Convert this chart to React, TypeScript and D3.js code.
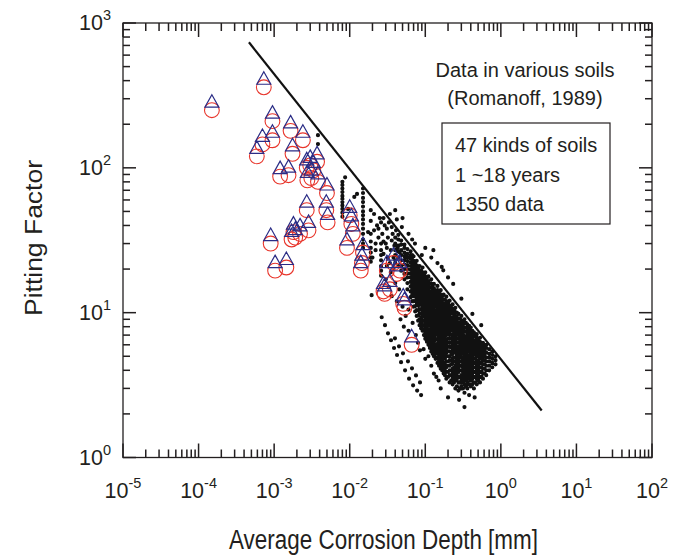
import * as d3 from "d3";

// Pitting factor vs average corrosion depth (log-log)

const xDecades = [-5, -4, -3, -2, -1, 0, 1, 2];
const yDecades = [0, 1, 2, 3];
const minorMantissa = [2, 3, 4, 5, 6, 7, 8, 9];

// upper bound line
const boundDepth = [4.64e-4, 3.47];
const boundFactor = [736, 2.11];

// per-soil markers (circle + triangle)
const soilDepth = [
  1.5e-4, 7.3e-4, 9.5e-4, 9.5e-4, 7.0e-4, 5.9e-4, 1.65e-3, 2.4e-3, 1.75e-3, 3.7e-3,
  2.7e-3, 3.3e-3, 3.1e-3, 1.2e-3, 1.55e-3, 2.75e-3, 3.8e-3, 5.0e-3, 4.9e-3, 2.7e-3,
  5.1e-3, 1.8e-3, 2.2e-3, 1.9e-3, 2.85e-3, 1.7e-3, 9.0e-4, 1.03e-3, 1.45e-3, 1.0e-2,
  1.05e-2, 1.1e-2, 9.2e-3, 1.5e-2, 1.45e-2, 1.4e-2, 3.1e-2, 3.8e-2, 4.2e-2, 2.8e-2,
  3.4e-2, 2.9e-2, 5.1e-2, 5.3e-2, 6.6e-2, 3.0e-3, 4.6e-2,
];
const soilFactor = [
  250, 360, 210, 155, 145, 120, 180, 155, 125, 110,
  100, 96, 85, 87, 89, 82, 80, 67, 51, 51,
  42, 36, 35, 33, 37, 32, 30, 19.5, 20.5, 47,
  41, 35, 28, 26, 22, 19.5, 19.5, 22, 18.5, 14,
  14.5, 13.5, 11.5, 10.8, 6, 104, 19.5,
];

// sparse measurements (depth mm, pitting factor)
const sparseDots: [number, number][] = [
  [0.0038, 168], [0.0038, 146], [0.0087, 86],
  [0.008, 80], [0.008, 76], [0.008, 72], [0.008, 68], [0.008, 64], [0.008, 61],
  [0.008, 58], [0.008, 55], [0.008, 52], [0.008, 49], [0.008, 46],
  [0.0115, 63], [0.0095, 52], [0.0125, 66],
  [0.015, 72], [0.015, 67], [0.015, 62], [0.015, 58], [0.015, 54], [0.015, 50], [0.015, 47],
  [0.015, 44], [0.015, 41], [0.015, 38], [0.015, 35], [0.015, 32], [0.015, 30], [0.015, 28],
  [0.019, 51], [0.019, 43], [0.0175, 36], [0.021, 48], [0.024, 38], [0.024, 33], [0.022, 30],
  [0.022, 27], [0.02, 24], [0.026, 42], [0.028, 45], [0.031, 38], [0.036, 39], [0.04, 51],
  [0.042, 44], [0.049, 39], [0.05, 45], [0.06, 35], [0.073, 30], [0.1, 28], [0.034, 48],
  [0.067, 32], [0.128, 27], [0.165, 20.7], [0.173, 19.6], [0.234, 15.8], [0.12, 24],
  [0.145, 22], [0.2, 17.5], [0.09, 25], [0.3, 12.5], [0.42, 9.8], [0.55, 8.2],
  [0.019, 35], [0.019, 31], [0.019, 28], [0.019, 26], [0.019, 24], [0.019, 22.5],
  [0.026, 30], [0.026, 27], [0.026, 25], [0.026, 23], [0.026, 21], [0.026, 19.5], [0.026, 18],
  [0.028, 25.5], [0.031, 28], [0.036, 31.5], [0.046, 26], [0.054, 24],
  [0.027, 35], [0.029, 40], [0.032, 33], [0.033, 42], [0.037, 35], [0.039, 29], [0.041, 37],
  [0.044, 34.5], [0.043, 28], [0.03, 30], [0.035, 27], [0.038, 24], [0.023, 40], [0.025, 45],
  [0.021, 37], [0.028, 31], [0.032, 24], [0.034, 22], [0.04, 23],
  [0.03, 17], [0.033, 15], [0.036, 13], [0.04, 16], [0.035, 19], [0.042, 12], [0.045, 14.5],
  [0.05, 11], [0.055, 9.5], [0.06, 10.5], [0.047, 9], [0.052, 8], [0.06, 7.5], [0.068, 8.5],
  [0.075, 7], [0.08, 6.2], [0.085, 5.5], [0.095, 5.6], [0.1, 4.8], [0.11, 5], [0.12, 4.3],
  [0.13, 3.8], [0.14, 3.6], [0.15, 3.4], [0.038, 20], [0.031, 21], [0.0195, 13.2],
  // lower trails
  [0.0265, 9.3], [0.0293, 8.2], [0.0321, 7.2], [0.0352, 6.45], [0.0386, 5.7], [0.0423, 5.1],
  [0.0478, 4.55], [0.054, 4.0], [0.061, 3.5], [0.069, 3.15], [0.078, 2.9], [0.088, 2.7],
  [0.0397, 6.65], [0.0449, 5.86], [0.0507, 5.24], [0.059, 4.61], [0.0667, 4.13],
  [0.0753, 3.69], [0.0851, 3.3],
  [0.33, 2.23], [0.2, 2.6], [0.45, 2.6], [0.28, 2.5], [0.16, 3.0], [0.38, 2.7],
];

// dense cloud: depth -> pitting factors
const cloudColumns: [number, number[]][] = [
  [0.040, [22, 25, 27, 30, 33]],
  [0.044, [21, 24, 26.5, 29, 32]],
  [0.048, [19.5, 21, 23, 25, 27, 29.5, 31.5]],
  [0.053, [17, 18.5, 20, 21.5, 23, 24.5, 26, 28, 29.5]],
  [0.058, [14.5, 16, 17.5, 18.7, 20, 21.3, 22.7, 24, 25.5, 27.5]],
  [0.064, [12.8, 14, 15.2, 16.3, 17.5, 18.6, 19.8, 21, 22.3, 23.7, 25, 26.5]],
  [0.067, [12, 13.2, 14.5, 15.7, 16.9, 18, 19.2, 20.5, 21.8, 23.2, 25]],
  [0.070, [11, 12, 13, 14, 15, 16, 17, 18, 19.2, 20.3, 21.5, 22.8, 24.5]],
  [0.0735, [10.2, 11.1, 12, 12.9, 13.8, 14.7, 15.6, 16.5, 17.5, 18.5, 19.6, 20.8, 22.2]],
  [0.077, [9.5, 10.4, 11.3, 12.2, 13, 13.9, 14.8, 15.7, 16.7, 17.7, 18.8, 20, 21.2, 22.8]],
  [0.0805, [8.8, 9.6, 10.4, 11.2, 12, 12.8, 13.6, 14.4, 15.2, 16.1, 17, 18, 19.1, 20.3]],
  [0.084, [8.2, 9, 9.8, 10.6, 11.4, 12.2, 13, 13.8, 14.6, 15.5, 16.4, 17.4, 18.5, 19.6, 21]],
  [0.088, [7.8, 8.5, 9.2, 9.9, 10.6, 11.3, 12, 12.8, 13.6, 14.4, 15.3, 16.3, 17.3, 18.4, 19.6]],
  [0.092, [7.5, 8.1, 8.8, 9.5, 10.2, 10.9, 11.6, 12.4, 13.2, 14, 14.9, 15.8, 16.8, 17.9, 19, 20.5]],
  [0.096, [7, 7.6, 8.2, 8.8, 9.4, 10, 10.7, 11.4, 12.1, 12.8, 13.6, 14.4, 15.3, 16.2, 17.2, 18.4]],
  [0.10, [6.6, 7.2, 7.8, 8.4, 9, 9.6, 10.3, 11, 11.7, 12.4, 13.1, 13.9, 14.8, 15.7, 16.7, 17.8, 19]],
  [0.105, [6.3, 6.8, 7.4, 8, 8.6, 9.2, 9.8, 10.4, 11, 11.7, 12.5, 13.3, 14.2, 15.1, 16.1, 17.2]],
  [0.11, [6, 6.5, 7, 7.6, 8.2, 8.8, 9.4, 10, 10.7, 11.4, 12.1, 12.9, 13.7, 14.6, 15.5, 16.5, 17.8]],
  [0.115, [5.7, 6.2, 6.7, 7.2, 7.7, 8.3, 8.9, 9.5, 10.1, 10.8, 11.5, 12.3, 13.1, 14, 14.9, 15.9]],
  [0.12, [5.4, 5.9, 6.4, 6.9, 7.4, 7.9, 8.5, 9.1, 9.7, 10.3, 11, 11.7, 12.4, 13.2, 14, 14.9, 15.9, 17]],
  [0.125, [5.2, 5.6, 6.1, 6.6, 7.1, 7.6, 8.1, 8.7, 9.3, 9.9, 10.5, 11.2, 11.9, 12.7, 13.5, 14.4, 15.4]],
  [0.13, [5, 5.4, 5.9, 6.3, 6.8, 7.3, 7.8, 8.3, 8.9, 9.5, 10.1, 10.8, 11.5, 12.2, 13, 13.8, 14.7, 15.8]],
  [0.137, [4.8, 5.2, 5.6, 6, 6.5, 7, 7.5, 8, 8.5, 9.1, 9.7, 10.3, 11, 11.7, 12.4, 13.2, 14.1]],
  [0.145, [4.5, 4.9, 5.3, 5.7, 6.1, 6.6, 7.1, 7.6, 8.1, 8.6, 9.2, 9.8, 10.4, 11.1, 11.8, 12.6, 13.4, 14.3, 15.3]],
  [0.152, [4.3, 4.7, 5.1, 5.5, 5.9, 6.3, 6.8, 7.3, 7.8, 8.3, 8.9, 9.5, 10.1, 10.7, 11.4, 12.1, 12.9, 13.8]],
  [0.16, [4.1, 4.5, 4.9, 5.3, 5.7, 6.1, 6.5, 7, 7.5, 8, 8.5, 9.1, 9.7, 10.3, 11, 11.7, 12.5, 13.4, 14.3]],
  [0.167, [4, 4.3, 4.7, 5.1, 5.5, 5.9, 6.3, 6.7, 7.2, 7.7, 8.2, 8.8, 9.4, 10, 10.6, 11.3, 12.1, 13]],
  [0.175, [3.8, 4.2, 4.5, 4.9, 5.2, 5.6, 6, 6.4, 6.9, 7.3, 7.8, 8.3, 8.9, 9.5, 10.1, 10.8, 11.5, 12.3, 13.3]],
  [0.182, [3.7, 4, 4.4, 4.8, 5.1, 5.5, 5.9, 6.3, 6.7, 7.2, 7.7, 8.2, 8.7, 9.3, 9.9, 10.6, 11.4, 12.3]],
  [0.19, [3.5, 3.9, 4.2, 4.6, 5, 5.3, 5.7, 6.1, 6.5, 7, 7.5, 8, 8.5, 9.1, 9.7, 10.4, 11.1, 12, 12.9]],
  [0.20, [3.6, 3.9, 4.3, 4.6, 5, 5.4, 5.8, 6.2, 6.6, 7.1, 7.6, 8.1, 8.7, 9.3, 10, 10.7, 11.6]],
  [0.21, [3.3, 3.7, 4, 4.3, 4.7, 5, 5.4, 5.8, 6.2, 6.6, 7, 7.5, 8, 8.5, 9.1, 9.7, 10.4, 11.2, 12.1]],
  [0.22, [3.4, 3.7, 4, 4.4, 4.7, 5.1, 5.4, 5.8, 6.2, 6.6, 7.1, 7.6, 8.1, 8.7, 9.3, 10, 10.8]],
  [0.23, [3.2, 3.5, 3.8, 4.1, 4.5, 4.8, 5.2, 5.5, 5.9, 6.3, 6.7, 7.1, 7.6, 8.1, 8.6, 9.2, 9.9, 10.6, 11.4]],
  [0.24, [3.3, 3.6, 3.9, 4.2, 4.6, 4.9, 5.3, 5.7, 6.1, 6.5, 6.9, 7.4, 7.9, 8.4, 9, 9.7, 10.4]],
  [0.25, [3, 3.4, 3.7, 4, 4.3, 4.6, 4.9, 5.3, 5.6, 6, 6.4, 6.8, 7.2, 7.7, 8.2, 8.8, 9.4, 10.1, 10.8]],
  [0.262, [3.1, 3.5, 3.8, 4.1, 4.4, 4.7, 5.1, 5.5, 5.8, 6.2, 6.6, 7.1, 7.6, 8.1, 8.7, 9.3, 10]],
  [0.275, [2.9, 3.3, 3.6, 3.9, 4.2, 4.5, 4.8, 5.1, 5.4, 5.8, 6.2, 6.6, 7, 7.5, 8, 8.5, 9.1, 9.8]],
  [0.288, [3, 3.3, 3.6, 4, 4.3, 4.6, 5, 5.3, 5.7, 6.1, 6.5, 7, 7.4, 7.9, 8.5, 9.1]],
  [0.30, [3.1, 3.4, 3.7, 4, 4.3, 4.6, 4.9, 5.2, 5.6, 6, 6.4, 6.8, 7.2, 7.7, 8.2, 8.8, 9.5]],
  [0.315, [3, 3.3, 3.6, 3.9, 4.2, 4.5, 4.8, 5.2, 5.5, 5.9, 6.3, 6.7, 7.1, 7.6, 8.1, 8.7]],
  [0.33, [2.8, 3.2, 3.5, 3.8, 4.1, 4.4, 4.7, 5, 5.3, 5.7, 6.1, 6.5, 6.9, 7.4, 7.9, 8.5, 9]],
  [0.345, [3.1, 3.4, 3.7, 4, 4.3, 4.6, 4.9, 5.3, 5.6, 6, 6.4, 6.9, 7.4, 7.9, 8.5]],
  [0.36, [3, 3.3, 3.6, 3.9, 4.2, 4.5, 4.8, 5.1, 5.5, 5.9, 6.3, 6.7, 7.2, 7.7, 8.3]],
  [0.38, [3.2, 3.5, 3.8, 4.1, 4.4, 4.7, 5, 5.4, 5.8, 6.2, 6.6, 7, 7.5, 8.1]],
  [0.40, [3.1, 3.4, 3.7, 4, 4.3, 4.6, 4.9, 5.2, 5.6, 6, 6.4, 6.8, 7.3, 7.9]],
  [0.42, [3.2, 3.5, 3.8, 4.1, 4.4, 4.7, 5, 5.3, 5.7, 6.1, 6.5, 7, 7.5]],
  [0.44, [3, 3.3, 3.6, 3.9, 4.2, 4.5, 4.8, 5.1, 5.5, 5.9, 6.3, 6.8, 7.3]],
  [0.46, [3.3, 3.6, 3.9, 4.2, 4.5, 4.8, 5.2, 5.6, 6, 6.4, 6.9]],
  [0.48, [3.2, 3.5, 3.8, 4.1, 4.4, 4.7, 5, 5.4, 5.8, 6.2, 6.7, 7.1]],
  [0.505, [3.4, 3.7, 4, 4.3, 4.6, 5, 5.3, 5.7, 6.1, 6.5]],
  [0.53, [3.3, 3.6, 3.9, 4.2, 4.5, 4.8, 5.1, 5.5, 5.9, 6.3, 6.7]],
  [0.555, [3.6, 3.9, 4.2, 4.5, 4.9, 5.2, 5.6, 6]],
  [0.58, [3.5, 3.8, 4.1, 4.4, 4.7, 5, 5.4, 5.8, 6.2]],
  [0.61, [3.8, 4.1, 4.4, 4.7, 5.1, 5.5, 5.9]],
  [0.64, [3.7, 4, 4.3, 4.6, 4.9, 5.3, 5.7, 6]],
  [0.70, [4, 4.3, 4.6, 4.9, 5.2, 5.6]],
  [0.77, [4.2, 4.5, 4.8, 5.1, 5.4]],
  [0.85, [4.4, 4.7, 5]],
];

const titleLines = ["Data in various soils", "(Romanoff, 1989)"];
const boxLines = ["47 kinds of soils", "1 ~18 years", "1350 data"];

const FONT = "'Liberation Sans', Arial, Helvetica, sans-serif";
const INK = "#231f20";
const RED = "#e8352b";
const NAVY = "#2b2d86";

const W = 677;
const H = 557;
const margin = { top: 23, right: 25, bottom: 99.5, left: 123 };

export default function App() {
  const x = d3.scaleLog().domain([1e-5, 1e2]).range([margin.left, W - margin.right]);
  const y = d3.scaleLog().domain([1, 1e3]).range([H - margin.bottom, margin.top]);
  const [x0, x1] = x.range();
  const [y0, y1] = y.range();

  // tick positions (major + minor) for both axes
  const xTicks: { v: number; len: number }[] = [];
  xDecades.forEach((k) => {
    xTicks.push({ v: 10 ** k, len: 14 });
    if (k < 2) minorMantissa.forEach((m) => xTicks.push({ v: m * 10 ** k, len: 8 }));
  });
  const yTicks: { v: number; len: number }[] = [];
  yDecades.forEach((k) => {
    yTicks.push({ v: 10 ** k, len: 13 });
    if (k < 3) minorMantissa.forEach((m) => yTicks.push({ v: m * 10 ** k, len: 7 }));
  });

  const dots: [number, number][] = [...sparseDots];
  cloudColumns.forEach(([d, fs]) => fs.forEach((f) => dots.push([d, f])));

  // all measurement dots as one path
  const r = 2.1;
  const dotPath = dots
    .map(([d, f]) => {
      const cx = x(d);
      const cy = y(f);
      return `M${cx + r},${cy}A${r},${r} 0 1 0 ${cx - r},${cy}A${r},${r} 0 1 0 ${cx + r},${cy}Z`;
    })
    .join("");

  const markerCircles = soilDepth
    .map((d, i) => {
      const cx = x(d);
      const cy = y(soilFactor[i]);
      const rr = 7.4;
      return `M${cx + rr},${cy}A${rr},${rr} 0 1 0 ${cx - rr},${cy}A${rr},${rr} 0 1 0 ${cx + rr},${cy}Z`;
    })
    .join("");
  const markerTriangles = soilDepth
    .map((d, i) => {
      const cx = x(d);
      const cy = y(soilFactor[i]);
      return `M${cx},${cy - 15.5}L${cx + 7},${cy - 3}L${cx - 7},${cy - 3}Z`;
    })
    .join("");

  const boundLine = d3
    .line<number>()
    .x((d) => x(d))
    .y((_, i) => y(boundFactor[i]));

  const tw = 1.5;
  const layer: React.CSSProperties = { position: "absolute", left: 0, top: 0 };

  return (
    <div style={{ position: "absolute", left: 0, top: 0, width: W, height: H, background: "#fff" }}>
      <svg width={W} height={H} style={layer}>
        <defs>
          <clipPath id="plot-clip">
            <rect x={x0} y={y1} width={x1 - x0} height={y0 - y1} />
          </clipPath>
        </defs>

        <g clipPath="url(#plot-clip)">
          {/* measurements */}
          <path d={dotPath} fill="#111" />
          {/* bound line */}
          <path d={boundLine(boundDepth) ?? ""} fill="none" stroke="#111" strokeWidth={2.2} />
          {/* soil markers */}
          <path d={markerCircles} fill="none" stroke={RED} strokeWidth={1.1} />
          <path d={markerTriangles} fill="none" stroke={NAVY} strokeWidth={1.2} />
        </g>

        {/* tick labels */}
        {xDecades.map((k) => (
          <text key={"xlab" + k} x={x(10 ** k)} y={y0 + 40} textAnchor="middle" fontFamily={FONT} fontSize={21.5} fill={INK}>
            10
            <tspan dy={-10} fontSize={14.5}>{k}</tspan>
          </text>
        ))}
        {yDecades.map((k) => (
          <text key={"ylab" + k} x={x0 - 12} y={y(10 ** k) + 7} textAnchor="end" fontFamily={FONT} fontSize={21.5} fill={INK}>
            10
            <tspan dy={-10} fontSize={14.5}>{k}</tspan>
          </text>
        ))}

        {/* axis titles */}
        <text
          x={(x0 + x1) / 2 - 4}
          y={549}
          textAnchor="middle"
          fontFamily={FONT}
          fontSize={27}
          fill={INK}
          textLength={309}
          lengthAdjust="spacingAndGlyphs"
        >
          Average Corrosion Depth [mm]
        </text>
        <text
          transform={`translate(42,238) rotate(-90)`}
          textAnchor="middle"
          fontFamily={FONT}
          fontSize={23}
          fill={INK}
          textLength={156}
          lengthAdjust="spacingAndGlyphs"
        >
          Pitting Factor
        </text>

        {/* annotation */}
        {titleLines.map((t, i) => (
          <text key={"tl" + i} x={525} y={77 + i * 28} textAnchor="middle" fontFamily={FONT} fontSize={20} fill={INK}>
            {t}
          </text>
        ))}
        <rect x={442} y={123} width={168} height={101} fill="#fff" stroke={INK} strokeWidth={1.2} />
        {boxLines.map((t, i) => (
          <text key={"bl" + i} x={455} y={152 + i * 29.5} fontFamily={FONT} fontSize={20} fill={INK}>
            {t}
          </text>
        ))}
      </svg>

      {/* frame and inward ticks on all four sides */}
      <svg width={W} height={H} style={layer}>
        <rect x={x0} y={y1} width={x1 - x0} height={y0 - y1} fill="none" stroke={INK} strokeWidth={1.3} />
        {xTicks.map((t, i) => (
          <rect key={"xb" + i} x={x(t.v) - tw / 2} y={y0 - t.len} width={tw} height={t.len} fill={INK} />
        ))}
        {xTicks.map((t, i) => (
          <rect key={"xt" + i} x={x(t.v) - tw / 2} y={y1} width={tw} height={t.len} fill={INK} />
        ))}
        {yTicks.map((t, i) => (
          <rect key={"yl" + i} x={x0} y={y(t.v) - tw / 2} width={t.len} height={tw} fill={INK} />
        ))}
        {yTicks.map((t, i) => (
          <rect key={"yr" + i} x={x1 - t.len} y={y(t.v) - tw / 2} width={t.len} height={tw} fill={INK} />
        ))}
      </svg>
    </div>
  );
}
